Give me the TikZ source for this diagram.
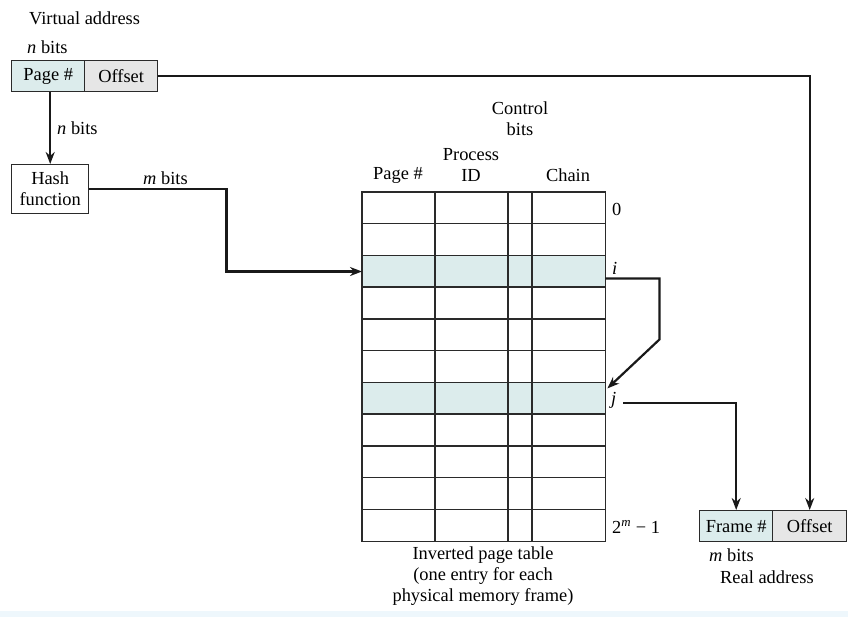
\documentclass[tikz,border=0pt]{standalone}
\usepackage{fontspec}
\setmainfont{Liberation Serif}
\usetikzlibrary{arrows.meta,calc}
\definecolor{cellblue}{HTML}{DCECEC}
\definecolor{cellgray}{HTML}{E6E6E6}
\definecolor{inkline}{HTML}{2A2A2A}
\definecolor{stripblue}{HTML}{EEF7FC}
\begin{document}
\begin{tikzpicture}[x=1pt,y=-1pt,
  font=\fontsize{18.4}{21}\selectfont,
  field/.style={draw=inkline, line width=1.4pt, minimum height=31pt, inner sep=0pt, anchor=north west},
  lbl/.style={inner sep=0pt},
  link/.style={draw=black!90, line width=2.2pt, -{Stealth[length=12pt,width=9pt]}},
  cellrule/.style={draw=inkline, line width=1.4pt},
  rowbox/.style={fill=cellblue, draw=none, minimum width=243pt, minimum height=31.727pt, inner sep=0pt, anchor=north west}
]
\useasboundingbox (0,0) rectangle (848,617);
\fill[stripblue] (0,611) rectangle (848,617);

% virtual address
\node[lbl, anchor=west] (vtitle) at (29,18) {Virtual address};
\node[lbl, anchor=west] (vbits) at (27,47) {\textit{n} bits};
\node[field, fill=cellblue, minimum width=73pt] (vpage) at (11,60) {Page \#};
\node[field, fill=cellgray, minimum width=73pt] (voff) at (84,60) {Offset};

% hash function
\node[field, fill=white, minimum width=77pt, minimum height=49pt, align=center] (hash) at (11,164) {Hash\\function};
\node[lbl, anchor=west] (nbits) at (57,128) {\textit{n} bits};
\node[lbl, anchor=west] (mbits) at (143,178) {\textit{m} bits};

% inverted page table
\node[rowbox] (rowi) at (362,{192+2*31.727}) {};
\node[rowbox] (rowj) at (362,{192+6*31.727}) {};
\node[draw=none, minimum width=243pt, minimum height=349pt, anchor=north west, inner sep=0pt] (ptable) at (362,192) {};
\foreach \k in {1,...,10} \draw[cellrule] (362,{192+\k*31.727}) -- (605,{192+\k*31.727});
\foreach \x in {435,508,532} \draw[cellrule] (\x,192) -- (\x,541);
\draw[cellrule] (ptable.north west) rectangle (ptable.south east);

% column headings
\node[lbl] (hpage) at (398,175) {Page \#};
\node[lbl, align=center] (hpid) at (471,165) {Process\\ID};
\node[lbl, align=center] (hctl) at (520,119) {Control\\bits};
\node[lbl] (hchain) at (568,175) {Chain};

% row labels
\node[lbl, anchor=west] (r0) at (612,209) {0};
\node[lbl, anchor=west] (ri) at (612,268) {\textit{i}};
\node[lbl, anchor=west] (rj) at (611,400) {\textit{j}};
\node[lbl, anchor=west] (rlast) at (612,527) {2\textsuperscript{\itshape m} − 1};

% caption
\node[lbl, align=center] (caption) at (483,576) {Inverted page table\\(one entry for each\\physical memory frame)};

% real address
\node[field, fill=cellblue, minimum width=73pt] (rframe) at (699,510) {Frame \#};
\node[field, fill=cellgray, minimum width=74pt] (roff) at (772,510) {Offset};
\node[lbl, anchor=west] (rbits) at (709,555) {\textit{m} bits};
\node[lbl, anchor=west] (rtitle) at (720,577) {Real address};

% connectors
\draw[link] (hash.north |- vpage.south) -- (hash.north);
\draw[link] (hash.east) -- ++(137,0) |- (rowi.west);
\draw[link] (voff.east) -| (roff.north);
\draw[link] ($(rowi.east)+(0,7)$) -- ++(54,0) -- ++(0,61) -- ($(rowj.east)+(2,-10)$);
\coordinate (jout) at (623,403);
\draw[link] (jout) -| (rframe.north);
\end{tikzpicture}
\end{document}
